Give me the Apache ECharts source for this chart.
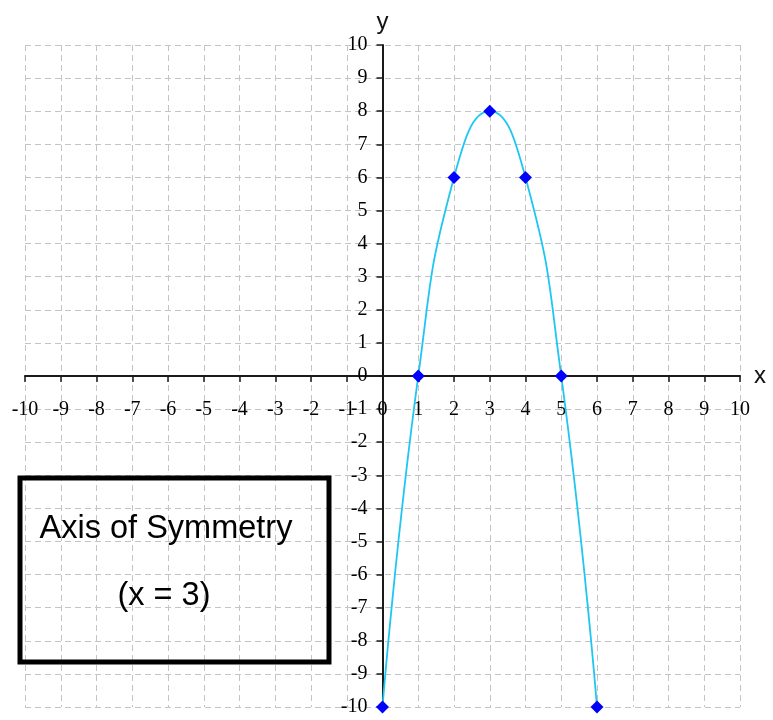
<!DOCTYPE html>
<html>
<head>
<meta charset="utf-8">
<script src="https://cdn.jsdelivr.net/npm/echarts@6/dist/echarts.min.js"></script>
<style>
  html, body { margin: 0; padding: 0; background: #fff; }
  #chart { width: 773px; height: 720px; }
</style>
</head>
<body>
<div id="chart"></div>
<script>
// Parabola sample points
const xValues = [0, 1, 2, 3, 4, 5, 6];
const yValues = [-10, 0, 6, 8, 6, 0, -10];

// Axis ranges
const xRange = [-10, 10];
const yRange = [-10, 10];

// Annotation text
const noteLines = ['Axis of Symmetry', '(x = 3)'];

const points = xValues.map((x, i) => [x, yValues[i]]);

// Plot area
const W = 773, H = 720;
const plot = { left: 25, right: 33, top: 45, bottom: 13 };
const plotW = W - plot.left - plot.right;
const plotH = H - plot.top - plot.bottom;
// Shift each axis from the plot edge onto the other axis's zero
const xAxisShift = -plotH * (0 - yRange[0]) / (yRange[1] - yRange[0]);
const yAxisShift = -plotW * (0 - xRange[0]) / (xRange[1] - xRange[0]);

const tickFont = { fontFamily: '"Liberation Serif", serif', fontSize: 20, color: '#000' };
const gridLine = { show: true, lineStyle: { color: '#c4c4c4', type: [6, 4], width: 1 } };
const axisLine = { show: true, onZero: false, lineStyle: { color: '#1a1a1a', width: 2 } };
const axisTick = { show: true, length: 6, lineStyle: { color: '#1a1a1a', width: 1.5 } };

const chart = echarts.init(document.getElementById('chart'), null, { renderer: 'canvas' });
chart.setOption({
  animation: false,
  backgroundColor: '#fff',
  grid: {
    left: plot.left, right: plot.right, top: plot.top, bottom: plot.bottom,
    containLabel: false, outerBoundsMode: 'none'
  },
  xAxis: {
    type: 'value',
    position: 'bottom',
    offset: xAxisShift,
    min: xRange[0], max: xRange[1], interval: 1,
    name: 'x',
    nameLocation: 'end',
    nameGap: 14,
    nameTextStyle: { fontFamily: '"Liberation Sans", sans-serif', fontSize: 24, color: '#111', align: 'left', verticalAlign: 'middle' },
    axisLine: axisLine,
    axisTick: axisTick,
    axisLabel: Object.assign({ margin: 24, showMinLabel: true, showMaxLabel: true, hideOverlap: false }, tickFont),
    splitLine: gridLine
  },
  yAxis: {
    type: 'value',
    position: 'left',
    offset: yAxisShift,
    min: yRange[0], max: yRange[1], interval: 1,
    name: 'y',
    nameLocation: 'end',
    nameGap: 11,
    nameTextStyle: { fontFamily: '"Liberation Sans", sans-serif', fontSize: 24, color: '#111', align: 'center' },
    axisLine: axisLine,
    axisTick: axisTick,
    axisLabel: Object.assign({ margin: 15, showMinLabel: true, showMaxLabel: true, hideOverlap: false }, tickFont),
    splitLine: gridLine
  },
  series: [{
    type: 'line',
    data: points,
    smooth: true,
    clip: false,
    symbol: 'diamond',
    symbolSize: 13,
    lineStyle: { color: '#1ec6f2', width: 1.8 },
    itemStyle: { color: '#0000ff' },
    z: 3
  }],
  graphic: [
    {
      type: 'rect',
      shape: { x: 20, y: 478, width: 309, height: 184 },
      style: { fill: 'none', stroke: '#000', lineWidth: 5 },
      z: 10
    },
    {
      type: 'text',
      x: 166, y: 529,
      style: {
        text: noteLines[0],
        font: '32.5px "Liberation Sans", Arial, sans-serif',
        fill: '#000',
        align: 'center', verticalAlign: 'middle',
        textAlign: 'center', textVerticalAlign: 'middle'
      },
      z: 10
    },
    {
      type: 'text',
      x: 164, y: 596,
      style: {
        text: noteLines[1],
        font: '32.5px "Liberation Sans", Arial, sans-serif',
        fill: '#000',
        align: 'center', verticalAlign: 'middle',
        textAlign: 'center', textVerticalAlign: 'middle'
      },
      z: 10
    }
  ]
});
</script>
</body>
</html>
